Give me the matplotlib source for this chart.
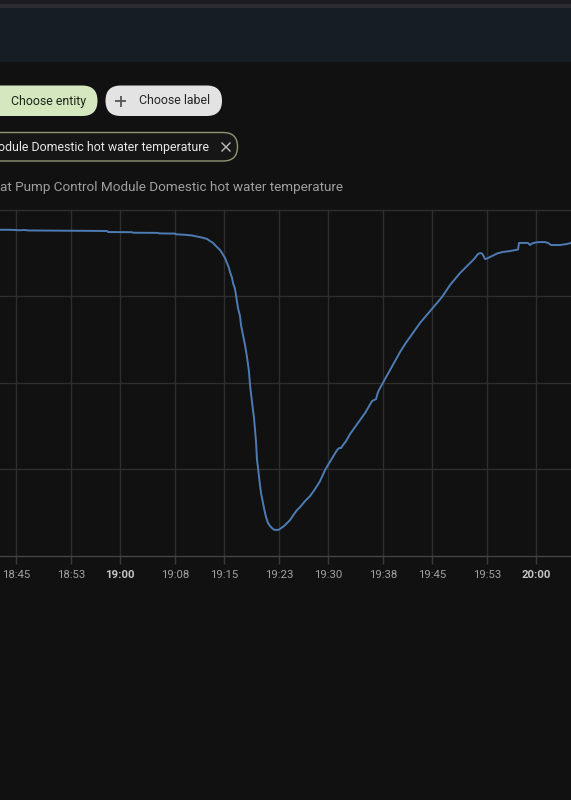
import matplotlib
matplotlib.use("Agg")
import matplotlib.pyplot as plt
import matplotlib.dates as mdates
from matplotlib.patches import FancyBboxPatch, Rectangle
from datetime import datetime, timedelta

plt.rcParams['font.family'] = ['Roboto', 'DejaVu Sans']

# ---------------- data ----------------
base_time = datetime(2024, 1, 1, 18, 45)
minutes = [-2.31, -0.87, 0.58, 1.15, 1.73, 6.35, 13.13, 13.27, 16.73, 16.88,
           20.48, 20.63, 22.93, 23.08, 24.38, 25.39, 26.11, 26.83, 27.55, 27.98,
           28.42, 28.70, 28.99, 29.42, 29.71, 30.15, 30.43, 30.72, 30.87, 31.16,
           31.30, 31.59, 31.73, 31.88, 32.02, 32.31, 32.45, 32.60, 32.74, 32.89,
           33.03, 33.18, 33.32, 33.46, 33.61, 33.75, 33.90, 34.04, 34.18, 34.33,
           34.47, 34.62, 34.76, 34.91, 35.05, 35.19, 35.34, 35.48, 35.63, 35.77,
           35.92, 36.06, 36.35, 36.64, 36.93, 37.21, 37.50, 37.94, 38.22, 38.66,
           39.09, 39.52, 40.10, 40.53, 40.96, 41.69, 42.41, 43.13, 43.85, 44.57,
           45.00, 45.44, 45.87, 46.30, 46.59, 46.88, 47.16, 47.60, 48.18, 48.90,
           49.62, 50.34, 50.92, 51.35, 51.64, 51.93, 52.21, 52.50, 53.22, 53.95,
           54.67, 55.39, 56.11, 56.83, 57.55, 58.27, 58.99, 59.72, 60.58, 61.45,
           62.02, 62.60, 63.32, 64.04, 64.76, 65.48, 66.06, 66.64, 66.93, 67.21,
           67.36, 67.65, 67.93, 68.37, 68.95, 69.38, 70.24, 71.25, 72.41, 72.55,
           73.85, 74.14, 74.42, 75.00, 75.58, 76.30, 76.73, 77.17, 78.47, 79.48,
           80.05]
temperature = [58.83, 58.83, 58.80, 58.82, 58.79, 58.78, 58.76, 58.70, 58.69, 58.66,
               58.65, 58.62, 58.61, 58.57, 58.54, 58.50, 58.44, 58.38, 58.30, 58.18,
               58.07, 57.95, 57.83, 57.66, 57.49, 57.20, 56.91, 56.62, 56.39, 56.05,
               55.76, 55.41, 55.06, 54.72, 54.31, 53.85, 53.33, 53.04, 52.75, 52.47,
               52.18, 51.83, 51.48, 51.08, 50.62, 49.87, 49.35, 48.83, 48.42, 47.96,
               47.27, 46.58, 45.54, 45.08, 44.56, 44.09, 43.63, 43.34, 43.05, 42.77,
               42.48, 42.25, 41.90, 41.73, 41.61, 41.52, 41.50, 41.52, 41.61, 41.73,
               41.90, 42.07, 42.42, 42.65, 42.82, 43.17, 43.46, 43.86, 44.32, 44.96,
               45.25, 45.54, 45.83, 46.11, 46.23, 46.23, 46.40, 46.63, 47.04, 47.44,
               47.85, 48.25, 48.65, 48.94, 49.00, 49.06, 49.46, 49.69, 50.21, 50.73,
               51.25, 51.77, 52.23, 52.64, 53.04, 53.45, 53.79, 54.14, 54.54, 54.95,
               55.29, 55.64, 55.99, 56.33, 56.62, 56.91, 57.14, 57.43, 57.49, 57.46,
               57.37, 57.14, 57.17, 57.26, 57.37, 57.46, 57.55, 57.60, 57.69, 58.07,
               58.07, 57.95, 58.04, 58.10, 58.12, 58.12, 58.07, 57.95, 57.95, 58.01,
               58.07]
tick_minutes = [0, 8, 15, 23, 30, 38, 45, 53, 60, 68, 75]
tick_labels = ["18:45", "18:53", "19:00", "19:08", "19:15", "19:23",
               "19:30", "19:38", "19:45", "19:53", "20:00"]
bold_labels = ["19:00", "20:00"]
y_grid = [40, 45, 50, 55, 60]
title_text = "at Pump Control Module Domestic hot water temperature"
chip_text = "odule Domestic hot water temperature"
btn_entity = "Choose entity"
btn_label = "Choose label"

times = [base_time + timedelta(minutes=m) for m in minutes]
tick_times = [base_time + timedelta(minutes=m) for m in tick_minutes]

# ---------------- figure ----------------
W, H = 571, 800
fig = plt.figure(figsize=(W / 100, H / 100), dpi=100)
fig.patch.set_facecolor('#111111')

# overlay in pixel coordinates
ov = fig.add_axes([0, 0, 1, 1], zorder=0)
ov.set_xlim(0, W)
ov.set_ylim(H, 0)
ov.axis('off')

ov.add_patch(Rectangle((0, 0), W, 4, color='#1c1b21', lw=0))
ov.add_patch(Rectangle((0, 4), W, 3.5, color='#2c2b32', lw=0))
ov.add_patch(Rectangle((0, 7.5), W, 54.5, color='#141e24', lw=0))

# pills
ov.add_patch(FancyBboxPatch((-60, 85.5), 157.5, 30.5,
                            boxstyle="round,pad=0,rounding_size=15.25",
                            fc='#d4e7bf', ec='none'))
ov.text(48.5, 101, btn_entity, ha='center', va='center', fontsize=8.9,
        color='#1d2418')
ov.add_patch(FancyBboxPatch((105.5, 85.5), 116.5, 30.5,
                            boxstyle="round,pad=0,rounding_size=15.25",
                            fc='#e3e3e3', ec='none'))
ov.plot([115, 126], [101, 101], color='#555555', lw=1.3, solid_capstyle='butt')
ov.plot([120.5, 120.5], [95.5, 106.5], color='#555555', lw=1.3, solid_capstyle='butt')
ov.text(174.5, 101, btn_label, ha='center', va='center', fontsize=8.9,
        color='#252525')

# chip
ov.add_patch(FancyBboxPatch((-60, 132.5), 297.5, 28.5,
                            boxstyle="round,pad=0,rounding_size=14.25",
                            fc='#161616', ec='#8e9874', lw=1.0))
ov.text(209.5, 147, chip_text, ha='right', va='center', fontsize=8.9,
        color='#e8e8e8')
ov.plot([222, 230], [143, 151], color='#bdbdbd', lw=1.0)
ov.plot([222, 230], [151, 143], color='#bdbdbd', lw=1.0)

# title
ov.text(343, 188, title_text, ha='right', va='center', fontsize=9.7,
        color='#a0a0a0')

# ---------------- chart ----------------
top_px, bot_px = 209.5, 556
ax = fig.add_axes([0, 1 - bot_px / H, 1, (bot_px - top_px) / H], zorder=1)
ax.set_facecolor('none')
ax.plot(times, temperature, color='#4d7cb5', lw=1.4)
ax.set_xlim(base_time + timedelta(minutes=-2.31), base_time + timedelta(minutes=80.05))
ax.set_ylim(y_grid[0], y_grid[-1])

for v in y_grid[1:]:
    ax.axhline(v, color='#2e2e2e', lw=1.0, zorder=0, clip_on=False)
for t in tick_times:
    ax.axvline(t, color='#2e2e2e', lw=1.0, zorder=0)

ax.set_xticks(tick_times)
ax.set_xticklabels(tick_labels)
ax.set_yticks([])
for lab in ax.get_xticklabels():
    if lab.get_text() in bold_labels:
        lab.set_fontweight('bold')
        lab.set_color('#c4c4c4')
    else:
        lab.set_color('#a2a2a2')
    lab.set_fontsize(8.2)
ax.tick_params(axis='x', length=6, width=1.0, color='#3a3a3a', pad=4)
for s in ['left', 'right', 'top']:
    ax.spines[s].set_visible(False)
ax.spines['bottom'].set_color('#444444')
ax.spines['bottom'].set_linewidth(1.0)

fig.savefig('out.png', dpi=100, facecolor=fig.get_facecolor())
